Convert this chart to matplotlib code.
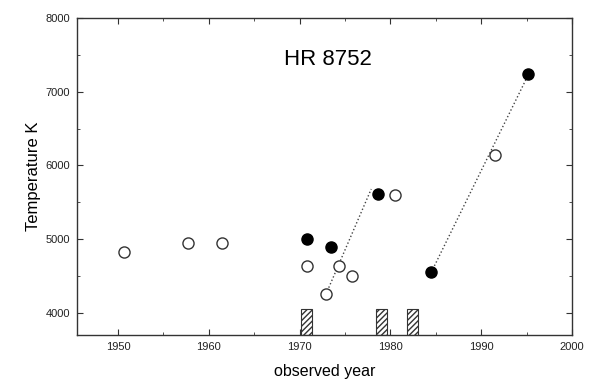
import matplotlib
matplotlib.use("Agg")
import matplotlib.pyplot as plt

plt.rcParams['font.family'] = ['Liberation Sans', 'DejaVu Sans']

open_year = [1950.7, 1957.7, 1961.5, 1970.8, 1972.9, 1974.4, 1975.8, 1980.5, 1991.5]
open_temp = [4824, 4946, 4946, 4634, 4250, 4634, 4500, 5597, 6136]
filled_year = [1970.8, 1973.5, 1978.6, 1984.5, 1995.2]
filled_temp = [5000, 4900, 5607, 4548, 7240]
trend1_year = [1972.9, 1977.9]
trend1_temp = [4250, 5680]
trend2_year = [1984.5, 1995.0]
trend2_temp = [4548, 7180]
bar_centers = [1970.8, 1979.0, 1982.4]
bar_width = 1.2
bar_height = 350
title_text = "HR 8752"

fig = plt.figure(figsize=(6.02, 3.82), dpi=100)
ax = fig.add_axes([0.128, 0.123, 0.822, 0.830])

ax.bar(bar_centers, [bar_height] * len(bar_centers), width=bar_width, bottom=3700,
       facecolor='white', edgecolor='#333333', hatch='//////', linewidth=0.8, zorder=2)
ax.plot(trend1_year, trend1_temp, linestyle=':', color='#444444', linewidth=1.0, zorder=3)
ax.plot(trend2_year, trend2_temp, linestyle=':', color='#444444', linewidth=1.0, zorder=3)
ax.plot(open_year, open_temp, 'o', markersize=8, markerfacecolor='white',
        markeredgecolor='#333333', markeredgewidth=1.0, linestyle='none', zorder=4)
ax.plot(filled_year, filled_temp, 'o', markersize=8, markerfacecolor='black',
        markeredgecolor='black', linestyle='none', zorder=4)

ax.text(1973.1, 7430, title_text, fontsize=16, ha='center', va='center')

ax.set_xlim(1945.5, 2000)
ax.set_ylim(3700, 8000)
ax.set_xticks([1950, 1960, 1970, 1980, 1990, 2000])
ax.set_xticks([1955, 1965, 1975, 1985, 1995], minor=True)
ax.set_yticks([4000, 5000, 6000, 7000, 8000])
ax.set_yticks([4500, 5500, 6500, 7500], minor=True)
ax.tick_params(which='both', direction='in', top=True, right=True, labelsize=8,
               color='#333333', labelcolor='#222222')
ax.tick_params(which='major', length=4, pad=5)
ax.tick_params(which='minor', length=2)
for s in ax.spines.values():
    s.set_linewidth(1.0)
    s.set_color('#333333')

ax.set_xlabel('observed year', fontsize=11.5)
ax.set_ylabel('Temperature K', fontsize=12)
ax.xaxis.set_label_coords(0.5, -0.092)
ax.yaxis.set_label_coords(-0.072, 0.5)

fig.savefig('out.png', dpi=100)
